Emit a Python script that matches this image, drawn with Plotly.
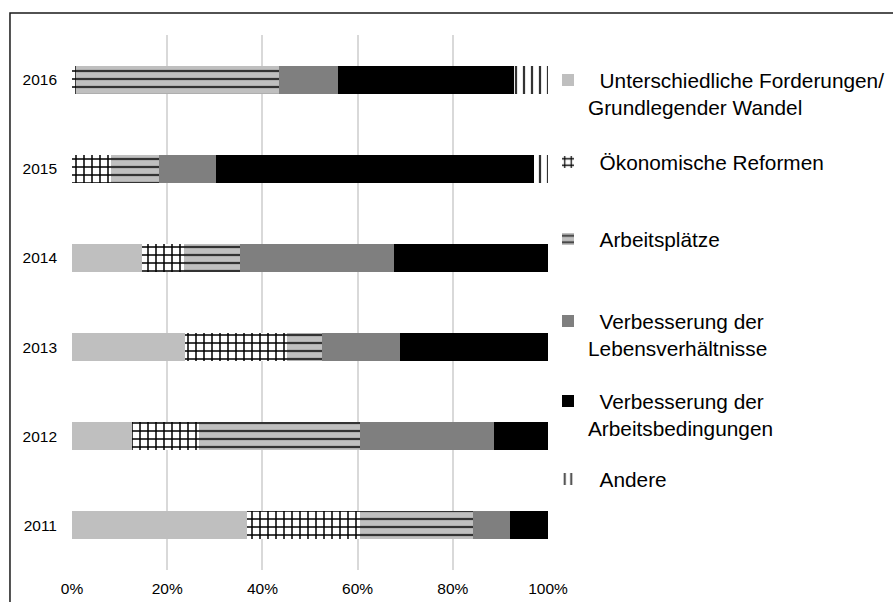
import plotly.graph_objects as go

# Survey years (bottom to top on the category axis)
years = ["2011", "2012", "2013", "2014", "2015", "2016"]

# Share of each motive per year, in percent
unterschiedliche = [36.8, 12.7, 23.8, 14.7, 0.0, 0.0]
oekonomische     = [23.6, 13.9, 21.4, 8.8, 8.2, 0.8]
arbeitsplaetze   = [23.8, 33.9, 7.3, 11.8, 10.1, 42.6]
lebensverh       = [7.8, 28.2, 16.5, 32.3, 12.0, 12.5]
arbeitsbed       = [8.0, 11.3, 31.0, 32.4, 66.8, 37.0]
andere           = [0.0, 0.0, 0.0, 0.0, 2.9, 7.1]

series_names = [
    "Unterschiedliche Forderungen/<br>Grundlegender Wandel",
    "Ökonomische Reformen",
    "Arbeitsplätze",
    "Verbesserung der<br>Lebensverhältnisse",
    "Verbesserung der<br>Arbeitsbedingungen",
    "Andere",
]
series_values = [unterschiedliche, oekonomische, arbeitsplaetze,
                 lebensverh, arbeitsbed, andere]

x_ticks = [0, 20, 40, 60, 80, 100]

FONT = "Liberation Sans, Arial, sans-serif"
W, H = 893, 602

# fill style per series: (background, pattern shape, pattern colour, solidity)
styles = [
    ("#bfbfbf", "", None, 0),
    ("#ffffff", "+", "#000000", 0.34),
    ("#bfbfbf", "-", "#333333", 0.28),
    ("#7f7f7f", "", None, 0),
    ("#000000", "", None, 0),
    ("#ffffff", "|", "#333333", 0.28),
]

# legend boxes: left edge and top edge in pixels of the whole figure
legend_left_px = 548
legend_top_px = [60, 142, 219, 301, 381, 459]

fig = go.Figure()
for i, (name, vals, (bg, shape, fg, sol)) in enumerate(zip(series_names, series_values, styles)):
    marker = dict(color=bg, line=dict(width=0))
    if shape:
        marker["pattern"] = dict(shape=shape, fgcolor=fg, bgcolor=bg,
                                 size=8, solidity=sol, fillmode="replace")
    legend_id = "legend" if i == 0 else f"legend{i + 1}"
    fig.add_trace(go.Bar(
        y=years, x=vals, orientation="h", name="\u00a0\u00a0" + name,
        marker=marker, legend=legend_id,
    ))

layout_legends = {}
for i, top in enumerate(legend_top_px):
    key = "legend" if i == 0 else f"legend{i + 1}"
    layout_legends[key] = dict(
        xref="container", yref="container",
        x=legend_left_px / W, y=1 - top / H, xanchor="left", yanchor="top",
        bgcolor="rgba(0,0,0,0)", borderwidth=0, valign="top",
        font=dict(family=FONT, size=20.8, color="#000000"),
        itemclick=False, itemdoubleclick=False,
    )

fig.update_layout(
    width=W, height=H,
    margin=dict(l=72, r=345, t=35, b=32, pad=0, autoexpand=False),
    paper_bgcolor="#ffffff", plot_bgcolor="#ffffff",
    barmode="stack", bargap=0.686,
    showlegend=True,
    font=dict(family=FONT, size=15.5, color="#000000"),
    xaxis=dict(range=[0, 100], tickvals=x_ticks,
               ticktext=[f"{v}%" for v in x_ticks],
               showgrid=True, gridcolor="#d9d9d9", gridwidth=1.5,
               zeroline=False, showline=False, ticks="",
               ticklabelstandoff=7,
               tickfont=dict(family=FONT, size=15.5, color="#000000")),
    yaxis=dict(type="category", showgrid=False, zeroline=False,
               showline=False, ticks="", ticklabelstandoff=14,
               tickfont=dict(family=FONT, size=15.5, color="#000000")),
    shapes=[dict(type="rect", xref="paper", yref="paper",
                 x0=-0.1303, x1=2.0, y0=-1.0, y1=1.0411,
                 line=dict(color="#1a1a1a", width=1.5),
                 fillcolor="rgba(0,0,0,0)", layer="above")],
    **layout_legends,
)

fig.write_html("out.html")
